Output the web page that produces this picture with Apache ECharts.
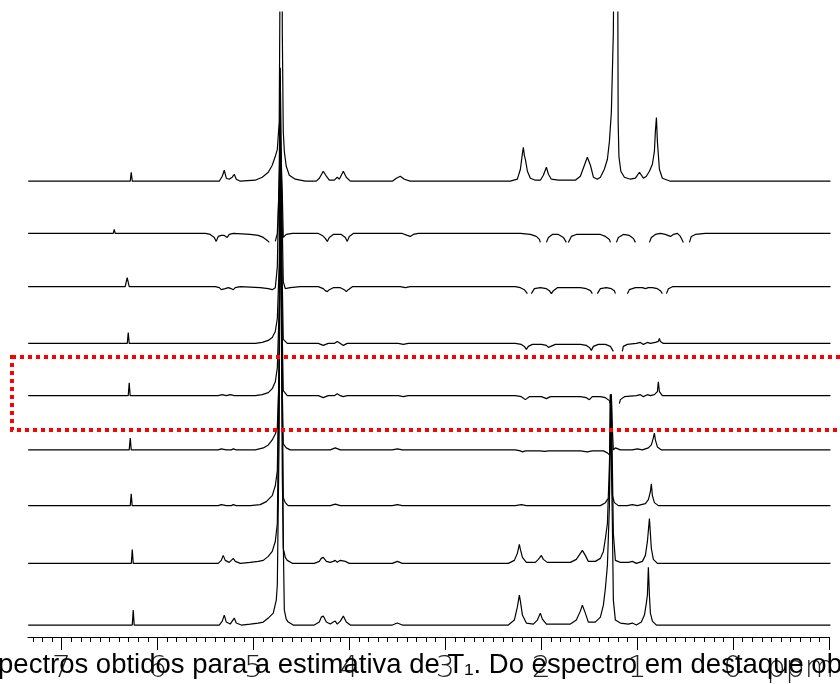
<!DOCTYPE html>
<html>
<head>
<meta charset="utf-8">
<script src="https://cdn.jsdelivr.net/npm/echarts@6/dist/echarts.min.js"></script>
<style>
  html, body { margin: 0; padding: 0; background: #fff; }
  #chart { width: 840px; height: 684px; }
</style>
</head>
<body>
<div id="chart"></div>
<script>
// stacked 1H spectra, [ppm, intensity above own baseline]; null = broken trace
var offsets = [458, 405.5, 352, 295, 242.5, 188, 132, 74, 12];

var majorTicks = [7, 6, 5, 4, 3, 2, 1, 0, -1];
var tickLabels = [7, 6, 5, 4, 3, 2, 1, 0, -0.7];

var spec1 = [
    [7.348,0],[6.284,0],[6.274,9],[6.263,0],
    [5.356,0],[5.325,5],[5.304,11],[5.283,3],[5.252,2],[5.221,4],[5.200,7],[5.179,2],[5.137,0],
    [4.981,1],[4.908,4],[4.845,9],[4.804,16],[4.772,25],[4.751,32],[4.731,60],[4.720,250],[4.713,700],[4.706,700],[4.699,150],[4.689,50],[4.678,30],[4.658,15],[4.626,6],[4.564,2],[4.460,0],
    [4.345,0],[4.313,3],[4.272,10],[4.240,5],[4.209,1],[4.157,1],[4.126,4],[4.105,2],[4.084,6],[4.063,10],[4.032,4],[3.990,0],
    [3.552,0],[3.510,3],[3.469,5],[3.427,2],[3.365,0],
    [2.322,0],[2.249,2],[2.217,12],[2.196,28],[2.186,34],[2.176,26],[2.165,22],[2.144,10],[2.113,3],[2.061,1],
    [2.009,1],[1.978,6],[1.946,14],[1.925,7],[1.894,2],[1.821,1],
    [1.644,1],[1.592,5],[1.550,16],[1.519,24],[1.487,16],[1.456,4],[1.415,2],
    [1.383,4],[1.342,12],[1.310,22],[1.289,40],[1.269,69],[1.248,150],[1.230,400],[1.216,700],[1.210,700],[1.198,60],[1.190,25],[1.170,10],[1.133,4],[1.070,2],
    [1.018,3],[0.976,9],[0.935,3],[0.904,5],[0.872,10],[0.841,17],[0.820,30],[0.810,50],[0.799,64],[0.789,40],[0.768,12],[0.737,3],[0.653,0],[-1.015,0]
];

var spec2 = [
    [7.348,0],[6.461,0],[6.451,4],[6.441,0],
    [5.502,0],[5.450,-1],[5.408,-4],[5.388,-8],[5.367,-3],[5.335,-2],[5.304,-2],[5.273,-4],[5.252,-1],[5.210,0],
    [5.033,-1],[4.950,-2],[4.897,-4],[4.856,-7],[4.835,-9],[4.830,null],
    [4.772,-8],[4.751,0],[4.731,50],[4.720,105],[4.710,105],[4.699,40],[4.689,-4],[4.658,-1],[4.595,0],
    [4.324,0],[4.282,-2],[4.251,-5],[4.230,-8],[4.209,-4],[4.168,-1],[4.084,-1],[4.042,-4],[4.022,-8],[4.001,-3],[3.959,0],
    [3.448,0],[3.396,-2],[3.365,-3],[3.333,-1],[3.281,0],
    [2.217,0],[2.113,-1],[2.051,-3],[2.019,-6],[2.009,-9],[2.000,null],
    [1.946,-9],[1.925,-4],[1.884,-1],[1.821,-1],[1.769,-4],[1.738,-9],[1.730,null],
    [1.717,-9],[1.686,-3],[1.634,-1],[1.383,-1],[1.331,-3],[1.289,-6],[1.279,-9],[1.250,null],
    [1.216,-9],[1.196,-4],[1.144,-1],[1.081,-2],[1.039,-5],[1.018,-9],[0.950,null],
    [0.872,-9],[0.852,-4],[0.810,-1],[0.758,0],[0.706,-1],[0.653,-3],[0.622,-1],[0.580,0],[0.549,-3],[0.518,-9],[0.490,null],
    [0.455,-9],[0.435,-3],[0.393,-1],[0.289,0],[-1.015,0]
];

var spec3 = [
    [7.348,0],[6.337,0],[6.316,9],[6.295,0],
    [5.398,0],[5.356,-1],[5.335,-3],[5.315,-4],[5.294,-2],[5.262,-1],[5.231,-2],[5.210,-3],[5.189,-1],[5.137,0],
    [4.929,-1],[4.845,-2],[4.804,-3],[4.772,-1],[4.751,20],[4.731,120],[4.720,212],[4.710,120],[4.689,5],[4.668,-2],[4.616,-1],[4.512,0],
    [4.324,0],[4.272,-2],[4.251,-4],[4.230,-5],[4.209,-3],[4.168,-1],[4.094,-1],[4.053,-3],[4.032,-5],[4.011,-3],[3.969,0],
    [3.469,0],[3.417,-1],[3.365,0],
    [2.270,0],[2.217,-1],[2.176,-3],[2.144,-7],[2.120,null],
    [2.103,-7],[2.071,-2],[2.009,-1],[1.946,-2],[1.915,-4],[1.894,-7],[1.873,-4],[1.832,-1],
    [1.592,-1],[1.529,-2],[1.487,-4],[1.467,-7],[1.440,null],
    [1.415,-7],[1.383,-2],[1.321,-1],[1.269,-2],[1.237,-4],[1.227,-7],[1.160,null],
    [1.102,-7],[1.081,-3],[1.018,-1],[0.945,-1],[0.914,-2],[0.883,-1],[0.841,-1],[0.789,-2],[0.758,-4],[0.737,-7],[0.715,null],
    [0.695,-7],[0.674,-2],[0.632,0],[-1.015,0]
];

var spec4 = [
    [7.348,0],[6.315,0],[6.305,11],[6.295,0],
    [4.981,0],[4.908,1],[4.845,3],[4.804,6],[4.772,12],[4.751,25],[4.731,80],[4.720,195],[4.710,195],[4.699,60],[4.689,4],[4.647,0],
    [4.324,0],[4.272,-2],[4.220,0],[4.157,0],[4.126,2],[4.094,0],[4.063,-2],[4.022,0],
    [3.490,0],[3.438,-1],[3.386,0],
    [2.270,0],[2.207,-1],[2.176,-3],[2.155,-6],[2.134,-3],[2.092,-1],[1.998,-1],[1.946,-2],[1.925,-4],[1.905,-2],[1.853,-1],
    [1.592,-1],[1.529,-2],[1.498,-4],[1.477,-7],[1.456,-3],[1.404,-1],[1.331,-1],[1.279,-3],[1.248,-8],[1.200,null],
    [1.154,-8],[1.144,-3],[1.102,-1],[1.008,0],[0.966,1],[0.935,-1],[0.893,1],[0.862,0],[0.810,1],[0.779,2],[0.768,5],[0.758,2],[0.727,0],[-1.015,0]
];

var spec5 = [
    [7.348,0],[6.305,0],[6.295,13],[6.285,0],
    [5.367,0],[5.325,1],[5.283,0],[5.242,1],[5.200,0],
    [4.981,0],[4.908,1],[4.845,3],[4.804,7],[4.772,14],[4.751,28],[4.731,90],[4.720,237],[4.710,237],[4.699,60],[4.689,5],[4.647,0],
    [4.324,0],[4.272,-2],[4.220,0],[4.157,0],[4.126,2],[4.094,0],[4.063,-1],[4.022,0],
    [3.490,0],[3.438,-1],[3.386,0],
    [2.270,0],[2.207,-1],[2.165,-4],[2.124,-1],[1.998,-1],[1.946,-3],[1.905,-1],
    [1.592,-1],[1.529,-2],[1.498,-4],[1.467,-1],[1.383,-1],[1.331,-2],[1.289,-5],[1.279,-8],[1.230,null],
    [1.185,-8],[1.175,-4],[1.133,-1],[1.008,0],[0.966,1],[0.935,-1],[0.893,1],[0.862,0],[0.820,1],[0.789,4],[0.779,14],[0.768,4],[0.737,0],[-1.015,0]
];

var spec6 = [
    [7.348,0],[6.295,0],[6.284,12],[6.274,0],
    [5.367,0],[5.335,1],[5.315,2],[5.283,0],[5.231,0],[5.210,1],[5.179,0],
    [4.981,0],[4.897,2],[4.845,5],[4.804,10],[4.772,16],[4.751,22],[4.731,80],[4.720,282],[4.710,282],[4.699,60],[4.689,6],[4.658,2],[4.616,0],
    [4.199,0],[4.147,2],[4.094,0],
    [3.552,0],[3.500,1],[3.448,0],
    [2.270,0],[2.217,-1],[2.196,-2],[2.165,-1],[2.009,-1],[1.967,-1.5],[1.925,-1],
    [1.592,-1],[1.519,-2],[1.467,-1],[1.352,-1],[1.310,-3],[1.289,-5],[1.279,-2],[1.269,56],[1.258,20],[1.248,0],[1.227,2],[1.175,0],
    [1.050,0],[0.998,1],[0.945,0],[0.883,2],[0.852,5],[0.831,12],[0.820,17],[0.810,10],[0.789,3],[0.747,0],[-1.015,0]
];

var spec7 = [
    [7.348,0],[6.284,0],[6.274,12],[6.264,0],
    [5.367,0],[5.335,1],[5.315,2],[5.283,0],[5.231,0],[5.210,1],[5.179,0],
    [5.033,0],[4.929,1],[4.866,4],[4.804,10],[4.772,20],[4.751,35],[4.731,150],[4.720,388],[4.710,388],[4.699,100],[4.689,8],[4.668,3],[4.637,0],
    [4.199,0],[4.147,1.5],[4.094,0],
    [3.552,0],[3.500,1],[3.448,0],
    [2.270,0],[2.207,1],[2.155,0],
    [1.383,0],[1.331,3],[1.310,6],[1.289,8],[1.279,112],[1.269,112],[1.258,10],[1.237,3],[1.196,0],
    [1.102,0],[1.050,1],[0.998,0],[0.914,2],[0.883,6],[0.862,14],[0.852,22],[0.841,10],[0.820,3],[0.779,0],[-1.015,0]
];

var spec8 = [
    [7.348,0],[6.273,0],[6.263,14],[6.253,0],
    [5.367,0],[5.335,3],[5.315,8],[5.294,3],[5.252,1],[5.231,3],[5.210,5],[5.189,2],[5.137,0],
    [5.033,1],[4.950,2],[4.897,3],[4.845,7],[4.804,12],[4.772,22],[4.751,40],[4.731,200],[4.720,498],[4.710,498],[4.699,150],[4.689,15],[4.668,6],[4.647,3],[4.595,0],
    [4.366,0],[4.313,2],[4.293,5],[4.272,6],[4.240,2],[4.199,1],[4.168,2],[4.147,3],[4.126,1],[4.094,3],[4.074,5],[4.042,2],[4.001,0],
    [3.552,0],[3.500,2],[3.448,0],
    [2.343,0],[2.280,3],[2.249,10],[2.228,19],[2.217,14],[2.196,6],[2.155,1],
    [2.061,1],[2.030,4],[1.998,8],[1.978,4],[1.936,1],
    [1.696,1],[1.634,4],[1.592,10],[1.571,13],[1.540,8],[1.509,2],
    [1.436,2],[1.383,5],[1.352,12],[1.331,25],[1.310,40],[1.289,100],[1.269,170],[1.258,170],[1.248,30],[1.227,3],[1.175,1],
    [1.092,1],[1.050,2],[1.008,0],[0.945,2],[0.914,8],[0.893,22],[0.872,45],[0.862,30],[0.852,15],[0.831,4],[0.789,0],[-1.015,0]
];

var spec9 = [
    [7.348,0],[6.263,0],[6.253,15],[6.243,0],
    [5.356,0],[5.325,4],[5.304,10],[5.283,3],[5.242,1],[5.221,4],[5.200,7],[5.179,2],[5.127,0],
    [5.033,1],[4.950,2],[4.897,3],[4.845,7],[4.793,12],[4.762,25],[4.751,40],[4.731,200],[4.720,508],[4.710,508],[4.699,150],[4.678,15],[4.658,6],[4.637,3],[4.585,0],
    [4.366,0],[4.313,3],[4.293,8],[4.272,9],[4.240,3],[4.199,1],[4.168,3],[4.147,4],[4.126,1],[4.094,4],[4.063,9],[4.032,3],[3.990,0],
    [3.552,0],[3.500,2],[3.448,0],
    [2.343,0],[2.280,5],[2.249,18],[2.228,30],[2.217,24],[2.196,10],[2.155,2],
    [2.082,1],[2.040,5],[2.009,12],[1.988,6],[1.946,1],
    [1.696,1],[1.634,5],[1.592,14],[1.571,20],[1.540,12],[1.509,3],
    [1.436,3],[1.383,8],[1.352,20],[1.331,37],[1.310,60],[1.289,120],[1.279,231],[1.269,231],[1.258,100],[1.248,25],[1.227,5],[1.175,2],
    [1.092,1],[1.050,2],[1.008,0],[0.956,3],[0.924,10],[0.904,22],[0.893,30],[0.883,58],[0.872,30],[0.862,12],[0.841,4],[0.799,0],[-1.015,0]
];

var spectra = [spec1, spec2, spec3, spec4, spec5, spec6, spec7, spec8, spec9];

var minorTicks = [];
for (var i = -10; i <= 73; i++) minorTicks.push(i / 10);

var myChart = echarts.init(document.getElementById('chart'));

var series = spectra.map(function (spec, k) {
    return {
        type: 'line',
        xAxisIndex: 0,
        data: spec.map(function (p) {
            return p[1] === null ? [p[0], '-'] : [p[0], p[1] + offsets[k]];
        }),
        showSymbol: false,
        symbol: 'none',
        clip: true,
        silent: true,
        lineStyle: { color: '#000', width: 1.2 },
        animation: false
    };
});

var axisBase = {
    type: 'value',
    gridIndex: 0,
    position: 'bottom',
    inverse: true,
    min: -1,
    max: 7.35,
    splitLine: { show: false }
};

var option = {
    animation: false,
    grid: { left: 28, right: 11, top: 12, bottom: 44 },
    xAxis: [
        Object.assign({}, axisBase, {
            axisLine: { onZero: false, lineStyle: { color: '#000', width: 1 } },
            axisTick: { customValues: majorTicks, length: 13, lineStyle: { color: '#000' } },
            axisLabel: {
                customValues: tickLabels,
                formatter: function (v) { return v === -0.7 ? 'ppm' : String(v); },
                fontFamily: 'DejaVu Sans',
                fontWeight: 200,
                fontSize: 30,
                color: '#222',
                margin: 17
            }
        }),
        Object.assign({}, axisBase, {
            axisLine: { show: false, onZero: false },
            axisTick: { customValues: minorTicks, length: 5, lineStyle: { color: '#000' } },
            axisLabel: { show: false }
        })
    ],
    yAxis: { type: 'value', min: 0, max: 628, show: false },
    series: series,
    graphic: [
        {
            type: 'rect',
            shape: { x: 12, y: 357, width: 840, height: 73 },
            style: { fill: 'none', stroke: '#ff0000', lineWidth: 4, lineDash: [4, 4] },
            z: 100
        },
        {
            type: 'text',
            x: -31,
            y: 679,
            z: 100,
            style: {
                text: 'espectros obtidos para a estimativa de T₁. Do espectro em destaque obtido',
                font: '27.5px "Liberation Sans"',
                fill: '#000',
                verticalAlign: 'bottom'
            }
        }
    ]
};

myChart.setOption(option);
</script>
</body>
</html>
